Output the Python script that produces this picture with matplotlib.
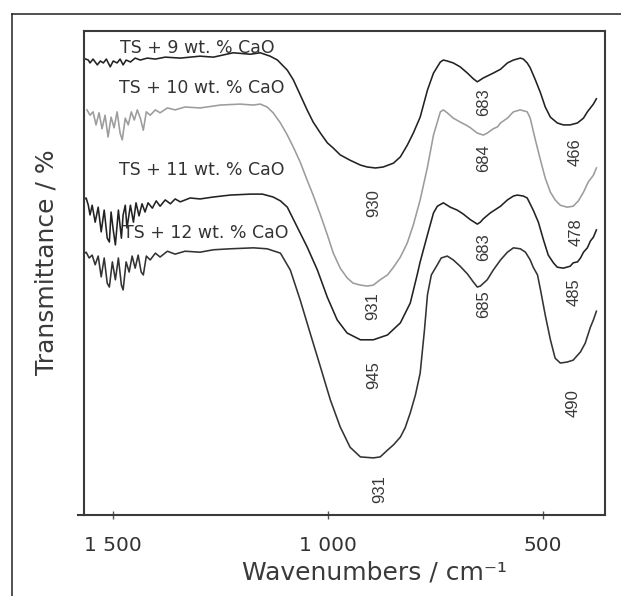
import matplotlib
matplotlib.use("Agg")
import matplotlib.pyplot as plt
from matplotlib.lines import Line2D

# ---------------- data (wavenumber / cm-1, relative transmittance) ----------------
wn_9 = [1570, 1558, 1554, 1547, 1537, 1530, 1523, 1516, 1507, 1500, 1491, 1484, 1477, 1470,
        1460, 1449, 1437, 1421, 1402, 1379, 1344, 1298, 1267, 1221, 1181, 1158, 1135, 1118,
        1095, 1081, 1065, 1049, 1035, 1018, 1002, 988, 972, 949, 925, 909, 890, 872, 848,
        832, 816, 802, 786, 769, 755, 739, 732, 723, 709, 693, 676, 662, 653, 646, 639, 616,
        599, 583, 569, 553, 546, 537, 530, 518, 506, 495, 483, 467, 453, 437, 420, 406, 397,
        390, 383, 376]
t_9 = [94.4, 94.0, 93.4, 94.2, 93.0, 93.8, 93.4, 94.2, 92.6, 93.8, 93.4, 94.2, 93.0, 94.0,
       93.6, 94.4, 94.0, 94.4, 94.2, 94.6, 94.4, 94.8, 94.6, 95.5, 95.2, 95.5, 94.8, 94.0,
       91.9, 89.9, 86.8, 83.7, 81.2, 78.9, 76.9, 75.8, 74.4, 73.3, 72.3, 71.9, 71.7, 71.9, 72.7,
       74.0, 76.4, 78.9, 82.2, 87.8, 91.3, 93.6, 94.0, 93.8, 93.4, 92.6, 91.3, 90.1, 89.5, 89.9, 90.3, 91.3,
       92.1, 93.4, 94.0, 94.4, 94.2, 93.4, 92.4, 89.9, 87.2, 84.3, 82.2, 81.0, 80.6, 80.6, 81.0, 82.0, 83.3,
       84.1, 84.9, 86.0]

wn_10 = [1561, 1554, 1547, 1540, 1533, 1526, 1519, 1512, 1505, 1498, 1491, 1484, 1479, 1472,
         1465, 1458, 1451, 1444, 1437, 1430, 1423, 1414, 1402, 1391, 1374, 1356, 1333, 1298,
         1251, 1205, 1174, 1158, 1142, 1128, 1111, 1095, 1081, 1065, 1049, 1035, 1018, 1002,
         988, 972, 956, 942, 925, 909, 895, 879, 862, 848, 832, 816, 802, 786, 769, 755, 746,
         739, 732, 723, 709, 693, 676, 669, 653, 639, 630, 616, 606, 599, 583, 569, 553, 537,
         530, 518, 506, 495, 483, 472, 460, 444, 430, 418, 406, 395, 383, 376]
t_10 = [83.7, 82.6, 83.3, 80.6, 83.1, 79.8, 82.6, 78.1, 82.2, 80.0, 83.3, 78.9, 77.5, 82.0,
        80.6, 83.3, 81.6, 83.7, 82.0, 79.5, 83.3, 82.6, 83.7, 83.1, 84.1, 83.7, 84.3, 84.1,
        84.7, 84.9, 84.7, 84.9, 84.3, 83.1, 81.0, 78.5, 76.0, 72.9, 69.2, 66.1, 62.0, 57.9,
        54.1, 51.0, 49.0, 47.9, 47.5, 47.3, 47.5, 48.6, 49.6, 51.2, 53.3, 56.2, 59.9, 65.1, 71.9, 78.5, 81.2,
        83.3, 83.7, 83.1, 82.0, 81.2, 80.4, 80.0, 78.9, 78.5, 78.9, 79.8, 80.2, 81.0, 82.0, 83.3, 83.7, 83.3,
        82.0, 77.5, 73.3, 69.6, 66.7, 65.1, 64.0, 63.6, 63.8, 64.9, 66.7, 68.8, 70.2, 71.7]

wn_11 = [1570, 1563, 1558, 1554, 1549, 1542, 1535, 1528, 1521, 1514, 1509, 1505, 1500, 1495,
         1488, 1481, 1477, 1472, 1468, 1460, 1453, 1447, 1440, 1433, 1426, 1419, 1409, 1400,
         1391, 1379, 1367, 1356, 1344, 1321, 1298, 1267, 1228, 1181, 1153, 1128, 1111, 1095,
         1072, 1049, 1025, 1002, 979, 956, 925, 895, 862, 832, 809, 793, 786, 769, 755, 746,
         732, 716, 700, 686, 669, 653, 646, 639, 623, 599, 583, 569, 560, 546, 537, 523, 511,
         499, 488, 476, 467, 453, 437, 430, 420, 413, 406, 397, 390, 383, 376]
t_11 = [65.1, 65.5, 64.0, 62.0, 64.0, 60.5, 63.6, 58.5, 63.0, 57.2, 56.4, 62.6, 58.9, 55.8,
        63.0, 57.2, 62.0, 64.0, 59.3, 64.0, 60.5, 64.5, 61.8, 64.3, 62.6, 64.5, 63.4, 64.9,
        63.8, 65.1, 64.3, 65.3, 64.7, 65.5, 65.3, 65.7, 66.1, 66.3, 66.3, 65.7, 64.9, 63.6,
        59.5, 55.4, 50.6, 45.0, 40.3, 37.6, 36.2, 36.2, 37.2, 39.7, 43.8, 49.6, 52.3, 57.9, 62.4, 63.8,
        64.5, 63.6, 63.0, 62.2, 61.0, 60.1, 60.5, 61.2, 62.4, 63.8, 65.1, 65.9, 66.1, 65.9, 65.5, 63.0, 60.5,
        56.8, 53.7, 52.1, 51.2, 51.0, 51.4, 52.1, 52.3, 53.1, 54.3, 55.2, 56.6, 57.4, 58.9]

wn_12 = [1570, 1563, 1556, 1549, 1542, 1535, 1528, 1521, 1514, 1509, 1502, 1495, 1488, 1481,
         1477, 1470, 1463, 1456, 1449, 1442, 1435, 1430, 1423, 1414, 1402, 1391, 1374, 1356,
         1333, 1298, 1267, 1228, 1174, 1142, 1111, 1088, 1065, 1042, 1018, 995, 972, 949, 925,
         895, 879, 862, 848, 832, 821, 809, 797, 786, 776, 769, 760, 746, 737, 723, 709, 693,
         676, 662, 653, 646, 630, 616, 599, 583, 569, 553, 541, 530, 523, 513, 506, 495, 483,
         472, 460, 444, 430, 413, 402, 390, 383, 376]
t_12 = [53.9, 54.3, 53.1, 53.7, 51.7, 53.5, 49.2, 53.1, 47.9, 47.1, 52.3, 48.6, 53.1, 47.5,
        46.5, 52.3, 50.2, 53.5, 51.0, 53.7, 50.2, 49.6, 53.5, 52.7, 54.1, 53.3, 54.5, 53.9,
        54.5, 54.3, 54.8, 55.0, 55.2, 55.0, 54.1, 50.6, 44.4, 37.6, 30.6, 23.8, 18.2, 14.0, 12.0,
        11.8, 12.0, 13.4, 14.5, 16.1, 18.0, 21.1, 24.8, 29.3, 38.2, 45.5, 49.6, 51.7, 53.1, 53.5, 52.7, 51.4,
        49.8, 48.1, 47.1, 47.3, 48.6, 50.6, 52.7, 54.3, 55.2, 55.0, 54.3, 52.7, 51.2, 49.6, 46.5, 41.3, 36.2,
        32.4, 31.4, 31.6, 32.0, 33.7, 35.5, 38.8, 40.3, 42.1]

series_names = ["TS + 9 wt. % CaO", "TS + 10 wt. % CaO", "TS + 11 wt. % CaO", "TS + 12 wt. % CaO"]
series_colors = ["#222222", "#9c9c9c", "#222222", "#333333"]

# peak labels: text, wavenumber, transmittance position
peak_text = ["930", "931", "945", "931", "683", "684", "683", "685", "466", "478", "485", "490"]
peak_wn = [895, 897, 895, 879, 639, 639, 639, 639, 425, 423, 427, 430]
peak_t = [64.5, 43.2, 28.9, 5.4, 85.3, 73.8, 55.4, 43.6, 75.0, 58.5, 46.1, 23.1]

# series label positions
name_wn = [1305, 1294, 1294, 1284]
name_t = [96.5, 88.2, 71.3, 58.3]

xticks = [1500, 1000, 500]
xtick_labels = ["1 500", "1 000", "500"]

# ---------------- figure ----------------
W, H = 621, 596
fig = plt.figure(figsize=(W / 100, H / 100), dpi=100)
fig.patch.set_facecolor("white")

ax = fig.add_axes([84 / W, 1 - 515 / H, (605 - 84) / W, (515 - 31) / H])

spectra = [(wn_9, t_9), (wn_10, t_10), (wn_11, t_11), (wn_12, t_12)]
for (x, y), c in zip(spectra, series_colors):
    ax.plot(x, y, color=c, lw=1.15, solid_joinstyle="round")

ax.set_xlim(1568, 356)
ax.set_ylim(0, 100)
ax.set_yticks([])
ax.set_xticks(xticks)
ax.set_xticklabels(xtick_labels, fontsize=14.5, color="#333333", family="DejaVu Sans")
ax.tick_params(axis="x", direction="inout", length=6, width=1.0, color="#555555", pad=12)

for s in ax.spines.values():
    s.set_color("#3a3a3a")
    s.set_linewidth(1.5)

for name, x, y in zip(series_names, name_wn, name_t):
    ax.text(x, y, name, ha="center", va="center", fontsize=12.5, color="#333333",
            family="DejaVu Sans")

for txt, x, y in zip(peak_text, peak_wn, peak_t):
    ax.text(x, y, txt, ha="center", va="center", rotation=90, fontsize=12,
            color="#383838", family="Liberation Sans")

fig.text(374 / W, 1 - 572 / H, "Wavenumbers / cm\u207b\u00b9", ha="center", va="center",
         fontsize=18, color="#3a3a3a", family="DejaVu Sans")
fig.text(47 / W, 1 - 262 / H, "Transmittance / %", ha="center", va="center",
         rotation=90, fontsize=18, color="#3a3a3a", family="DejaVu Sans")

# outer frame (left and top edges visible)
fig.add_artist(Line2D([12 / W, 12 / W], [0, 1 - 14 / H], color="#222222", lw=1.1))
fig.add_artist(Line2D([12 / W, 1], [1 - 14 / H, 1 - 14 / H], color="#222222", lw=1.1))
# small extension of the x-axis line to the left
fig.add_artist(Line2D([78 / W, 84 / W], [1 - 515 / H, 1 - 515 / H], color="#3a3a3a", lw=1.5))

fig.savefig("out.png", dpi=100)
